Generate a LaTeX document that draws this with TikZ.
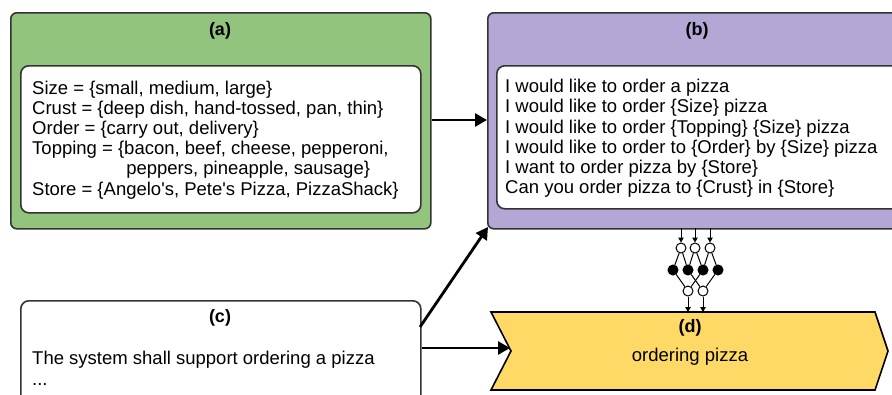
\documentclass[tikz,border=0pt]{standalone}
\usepackage{fontspec}
\setmainfont{Liberation Sans}
\usetikzlibrary{arrows.meta,positioning}
\definecolor{cgreen}{HTML}{93C47D}
\definecolor{cpurple}{HTML}{B4A7D6}
\definecolor{cyellow}{HTML}{FFD966}
\definecolor{cborder}{HTML}{333333}
\tikzset{
  outerbox/.style={draw=cborder, line width=1.6pt, rounded corners=6pt, anchor=north west, inner sep=0pt},
  innerbox/.style={draw=cborder, line width=1.6pt, fill=white, rounded corners=8pt, anchor=north west, inner sep=0pt},
  lbl/.style={font=\fontsize{18}{20}\selectfont\bfseries, inner sep=0pt},
  body/.style={font=\fontsize{18.5}{20.2}\selectfont, align=left, anchor=north west, inner sep=0pt},
  bigarrow/.style={line width=2.8pt, -{Triangle[length=12pt,width=13pt]}},
  neuron/.style={circle, draw=black, line width=1pt, minimum size=10pt, inner sep=0pt, fill=white},
  neuronf/.style={neuron, fill=black},
  nnline/.style={line width=1pt},
  nnarrow/.style={line width=1pt, -{Triangle[length=5pt,width=5.5pt]}}
}
\begin{document}
\begin{tikzpicture}[x=1pt,y=-1pt]
\clip (0,0) rectangle (892,394);
\fill[white] (0,0) rectangle (892,394);
% (a)
\node[outerbox, fill=cgreen, minimum width=420, minimum height=216] (a) at (10,12) {};
\node[lbl] (alab) at (220,31) {(a)};
\node[innerbox, minimum width=400, minimum height=147] (ain) at (20,65) {};
\node[body] (atext) at (32,80.5) {Size = \{small, medium, large\}\\
Crust = \{deep dish, hand-tossed, pan, thin\}\\
Order = \{carry out, delivery\}\\
Topping = \{bacon, beef, cheese, pepperoni,\\
\hphantom{Topping = \{}\hspace{2pt}peppers, pineapple, sausage\}\\
Store = \{Angelo\textquotesingle s, Pete\textquotesingle s Pizza, PizzaShack\}};
% (b)
\node[outerbox, fill=cpurple, minimum width=420, minimum height=216] (b) at (487,12) {};
\node[lbl] (blab) at (697,31) {(b)};
\node[innerbox, minimum width=410, minimum height=143] (bin) at (496,65) {};
\node[body] (btext) at (505,79) {I would like to order a pizza\\
I would like to order \{Size\} pizza\\
I would like to order \{Topping\} \{Size\} pizza\\
I would like to order to \{Order\} by \{Size\} pizza\\
I want to order pizza by \{Store\}\\
Can you order pizza to \{Crust\} in \{Store\}};
% (c)
\node[innerbox, minimum width=400, minimum height=120] (c) at (20,300) {};
\node[lbl] (clab) at (220,318) {(c)};
\node[body] (ctext) at (32,350.5) {The system shall support ordering a pizza\\[1.5pt]...};
% (d)
\draw[draw=black, line width=1.6pt, fill=cyellow] (491,312) -- (875,312) -- (888,351) -- (875,390) -- (491,390) -- (511,351) -- cycle;
\node[minimum width=384, minimum height=78, inner sep=0pt] (d) at (690,351) {};
\node[lbl] (dlab) at (690,328) {(d)};
\node[font=\fontsize{18.5}{20}\selectfont, inner sep=0pt] (dtext) at (690,357) {ordering pizza};
\coordinate (dnotch) at (510,348);
% connectors
\draw[bigarrow] (a.east |- 0,120) -- (b.west |- 0,120);
\coordinate (cfrom) at (420,327);
\coordinate (bto) at (488,227);
\draw[bigarrow] (cfrom) -- (bto);
\draw[bigarrow] (c.east |- 0,348) -- (dnotch);
% neural network icon
\foreach \i/\x in {1/681,2/695,3/710} {
  \node[neuron] (t\i) at (\x,248) {};
  \coordinate (s\i) at (\x,228);
  \draw[nnarrow] (s\i) -- (t\i);
}
\foreach \i/\x in {1/673,2/688,3/703,4/718} {
  \node[neuronf] (h\i) at (\x,270) {};
}
\foreach \i/\x in {1/688,2/703} {
  \node[neuron] (o\i) at (\x,291) {};
  \coordinate (e\i) at (\x,312);
}
\draw[nnline] (t1) -- (h1); \draw[nnline] (t1) -- (h2);
\draw[nnline] (t2) -- (h2); \draw[nnline] (t2) -- (h3);
\draw[nnline] (t3) -- (h3); \draw[nnline] (t3) -- (h4);
\draw[nnline] (h1) -- (o1); \draw[nnline] (h2) -- (o2);
\draw[nnline] (h3) -- (o1); \draw[nnline] (h4) -- (o2);
\draw[nnarrow] (o1) -- (e1);
\draw[nnarrow] (o2) -- (e2);
\end{tikzpicture}
\end{document}
